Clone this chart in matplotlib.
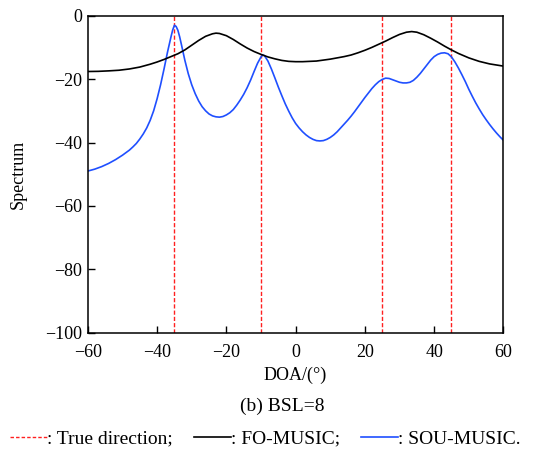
import matplotlib
matplotlib.use('Agg')
import matplotlib.pyplot as plt
from matplotlib.lines import Line2D

plt.rcParams['font.family'] = ['Liberation Serif', 'DejaVu Serif']

# ─── Data ─────────────────────────────────────────────────────────────────────
true_doa = [-35, -10, 25, 45]

fo_x = [-60, -57, -54, -51, -48, -45, -42, -40, -38, -36, -34, -32, -30, -28, -26,
        -24, -23, -22, -20, -18, -16, -14, -12, -10, -8, -6, -4, -2, 0, 2, 4, 6, 8,
        10, 12, 14, 16, 18, 20, 22, 24, 25, 26, 28, 30, 32, 33.5, 35, 37, 39, 41,
        43, 45, 47, 50, 53, 56, 60]
fo_y = [-17.6, -17.55, -17.4, -17.2, -16.8, -16.2, -15.3, -14.6, -13.8, -12.9, -12.0,
        -10.8, -9.3, -7.8, -6.5, -5.7, -5.5, -5.6, -6.3, -7.5, -8.9, -10.2, -11.3,
        -12.2, -13.0, -13.6, -14.1, -14.4, -14.5, -14.5, -14.4, -14.3, -14.0, -13.7,
        -13.3, -12.9, -12.4, -11.7, -10.9, -10.0, -9.0, -8.5, -8.0, -6.9, -5.9, -5.2,
        -5.0, -5.2, -6.0, -7.1, -8.3, -9.6, -10.8, -11.9, -13.3, -14.4, -15.2, -15.9]

sou_x = [-60, -58, -56, -54, -52, -50, -48, -47, -46, -45, -44, -43, -42, -41, -40,
         -39, -38, -37, -36, -35.5, -35, -34.5, -34, -33.5, -33, -32, -31, -30, -29,
         -28, -27, -26, -25, -24, -23, -22, -21, -20, -19, -18, -17, -16, -15, -14,
         -13, -12, -11, -10, -9.5, -9, -8, -7, -6, -5, -4, -3, -2, -1, 0, 1, 2, 3, 4,
         5, 6, 7, 8, 9, 10, 11, 12, 13, 14, 15, 16, 17, 18, 19, 20, 21, 22, 23, 24,
         25, 26, 27, 28, 29, 30, 31, 32, 33, 34, 35, 36, 37, 38, 39, 40, 41, 42, 43,
         44, 45, 46, 47, 48, 49, 50, 51, 52, 53, 54, 55, 56, 57, 58, 59, 60]
sou_y = [-49.0, -48.4, -47.6, -46.6, -45.4, -44.0, -42.4, -41.4, -40.3, -38.9, -37.3,
         -35.4, -33.0, -30.0, -26.2, -21.8, -16.8, -11.5, -6.7, -4.5, -3.0, -3.4,
         -4.6, -6.6, -9.0, -14.0, -18.3, -21.8, -24.6, -26.9, -28.7, -30.0, -31.0,
         -31.6, -31.9, -32.0, -31.8, -31.3, -30.6, -29.6, -28.2, -26.6, -24.8, -22.7,
         -20.3, -17.6, -15.0, -13.0, -12.4, -12.6, -14.3, -16.8, -19.6, -22.5, -25.2,
         -27.8, -30.1, -32.2, -34.0, -35.4, -36.6, -37.6, -38.4, -39.0, -39.4, -39.5,
         -39.4, -39.0, -38.4, -37.6, -36.6, -35.4, -34.2, -33.0, -31.7, -30.3, -28.8,
         -27.3, -25.8, -24.4, -23.0, -21.8, -20.8, -20.1, -19.7, -19.8, -20.2, -20.6,
         -21.0, -21.2, -21.2, -21.0, -20.4, -19.4, -18.2, -16.8, -15.4, -14.0, -12.9,
         -12.2, -11.8, -11.7, -12.0, -13.0, -14.6, -16.5, -18.6, -20.8, -23.2, -25.4,
         -27.5, -29.4, -31.2, -32.8, -34.3, -35.7, -37.0, -38.2, -39.3]

# ─── Plot ─────────────────────────────────────────────────────────────────────
fig = plt.figure(figsize=(5.49, 4.49), dpi=100)
ax = fig.add_axes([0.160, 0.259, 0.757, 0.706])

red = '#FF2020'
blue = '#1F4FFF'
for d in true_doa:
    ax.plot([d, d], [-100, 0], color=red, linestyle='--', linewidth=1.0,
            dashes=(3, 1.5), zorder=1)
ax.plot(fo_x, fo_y, color='black', linewidth=1.2, zorder=3)
ax.plot(sou_x, sou_y, color=blue, linewidth=1.2, zorder=2)

ax.set_xlim(-60, 60)
ax.set_ylim(-100, 0)
ax.set_xticks(range(-60, 61, 20))
ax.set_yticks(range(-100, 1, 20))
ax.tick_params(direction='in', length=5, width=1, labelsize=13)
ax.tick_params(axis='x', pad=8)
ax.tick_params(axis='y', pad=4)
for s in ax.spines.values():
    s.set_linewidth(1.1)
ax.set_xlabel('DOA/(°)', fontsize=13, labelpad=4)
ax.set_ylabel('Spectrum', fontsize=13, labelpad=13)

fig.text(0.514, 0.094, '(b) BSL=8', ha='center', va='center', fontsize=14)

handles = [
    Line2D([], [], color=red, linestyle='--', linewidth=1.0, dashes=(2.5, 1.5)),
    Line2D([], [], color='black', linewidth=1.2),
    Line2D([], [], color=blue, linewidth=1.2),
]
labels = [': True direction;', ': FO-MUSIC;', ': SOU-MUSIC.']
fig.legend(handles, labels, loc='center', bbox_to_anchor=(0.483, 0.022), ncol=3,
           frameon=False, fontsize=14, handlelength=1.9, handletextpad=0.0,
           columnspacing=1.1, borderaxespad=0, borderpad=0)

plt.savefig('out.png', dpi=100)
plt.close()
